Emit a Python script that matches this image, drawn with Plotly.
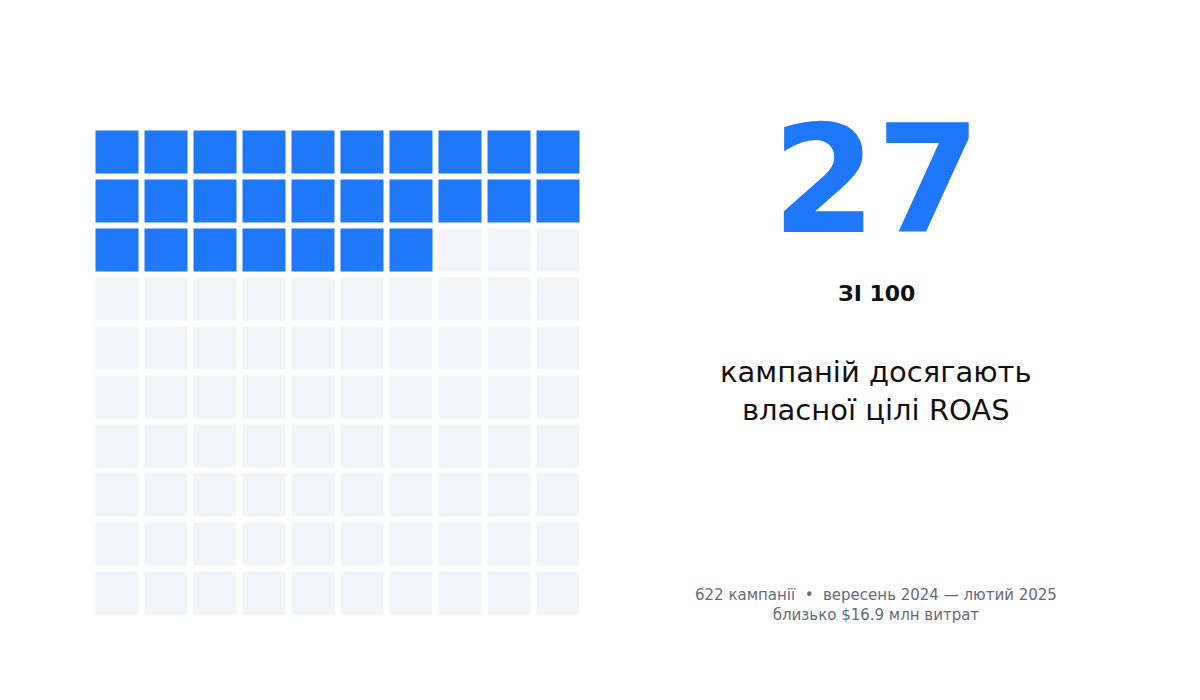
import plotly.graph_objects as go

# Data
total = 100
achieved = 27
n_cols = 10
headline = "27"
sub_label = "ЗІ 100"
desc_lines = ["кампаній досягають", "власної цілі ROAS"]
footer_lines = ["622 кампанії  •  вересень 2024 — лютий 2025", "близько $16.9 млн витрат"]

BLUE = "#1E77F7"
GRAY = "#F2F4F8"

xs = [i % n_cols for i in range(total)]
ys = [i // n_cols for i in range(total)]
colors = [BLUE if i < achieved else GRAY for i in range(total)]

W, H = 1200, 700
OFF = 8  # page body margin
fig = go.Figure()
fig.add_trace(go.Scatter(
    x=xs, y=ys, mode="markers",
    marker=dict(symbol="square", size=43, color=colors, line=dict(width=0)),
    hoverinfo="skip", showlegend=False,
))

fig.update_layout(
    width=W, height=H,
    margin=dict(l=0, r=0, t=0, b=0),
    paper_bgcolor="white", plot_bgcolor="white",
    font=dict(family="DejaVu Sans"),
    xaxis=dict(domain=[(92.5 - OFF) / W, (582.5 - OFF) / W], range=[-0.5, 9.5], visible=False, fixedrange=True),
    yaxis=dict(domain=[1 - (617.5 - OFF) / H, 1 - (127.5 - OFF) / H], range=[9.5, -0.5], visible=False, fixedrange=True),
)

cx = (876 - OFF) / W


def note(y, text, size, color):
    fig.add_annotation(x=cx, y=1 - (y - OFF) / H, xref="paper", yref="paper", text=text,
                       xanchor="center", yanchor="middle", showarrow=False,
                       font=dict(size=size, color=color))


note(180, "<b>%s</b>" % headline, 150, BLUE)
note(293, "<b>%s</b>" % sub_label, 22, "#111111")
note(391, "<br>".join(desc_lines), 29, "#111111")
note(605, "<br>".join(footer_lines), 15, "#5F6B7A")

fig.write_html("out.html")
